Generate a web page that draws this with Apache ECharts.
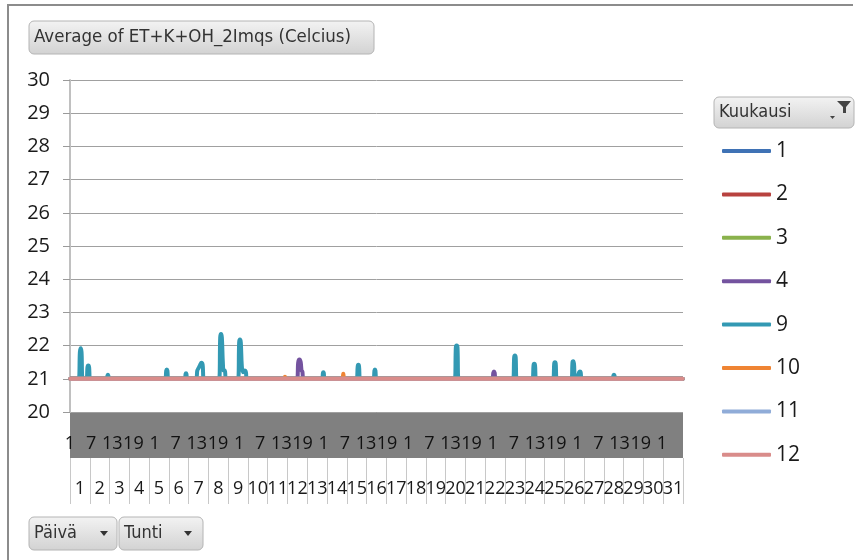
<!DOCTYPE html>
<html>
<head>
<meta charset="utf-8">
<script src="https://cdn.jsdelivr.net/npm/echarts@6/dist/echarts.min.js"></script>
<style>
html,body{margin:0;padding:0;background:#fff;}
#chart{width:860px;height:560px;}
</style>
</head>
<body>
<div id="chart"></div>
<script>
// ---- data ----
const titleText = 'Average of ET+K+OH_2Imqs (Celcius)';
const legendTitle = 'Kuukausi';
const fieldButtons = ['Päivä', 'Tunti'];
const days = ['1','2','3','4','5','6','7','8','9','10','11','12','13','14','15','16','17','18','19','20','21','22','23','24','25','26','27','28','29','30','31'];
const hourLabels = ['1','7','13','19','1','7','13','19','1','7','13','19','1','7','13','19','1','7','13','19','1','7','13','19','1','7','13','19','1'];
const hoursTotal = 744; // 31 days x 24 hours
const yMin = 20, yMax = 30, yStep = 1;
const months = ['1','2','3','4','9','10','11','12'];
const monthColors = ['#3f72b5','#b8423f','#8ab24c','#74539f','#3399b3','#ef8433','#90acd8','#d98c8a'];

// [hour index, value]
const m1 = [[0.5,21],[743.5,21]];
const m2 = [[0.5,21],[743.5,21]];
const m3 = [[0.5,21],[743.5,21]];
const m4 = [[0.5,21],[275.5,21],[277,21.5],[278.5,21.58],[280,21.5],[281,21.25],[282,21.22],[283.5,21],
            [512.5,21],[513.8,21.18],[514.6,21.22],[515.4,21.18],[516.7,21],[743.5,21]];
const m9 = [[0.5,21],
  [10.5,21],[12,21.8],[13,21.92],[14,21.8],[15.5,21],
  [20,21],[21.2,21.35],[22.2,21.4],[23.2,21.35],[24.4,21],
  [44.5,21],[45.5,21.1],[46,21.12],[46.5,21.1],[47.5,21],
  [115.5,21],[116.8,21.25],[117.5,21.28],[118.2,21.25],[119.5,21],
  [139.3,21],[140.3,21.15],[140.8,21.17],[141.3,21.15],[142.3,21],
  [153,21],[154.5,21.25],[156,21.32],[158,21.42],[159.5,21.48],[161,21.42],[162.5,21],
  [181,21],[182.3,22.25],[183.3,22.35],[184.3,22.25],[185.5,21.5],[186.5,21.25],[188,21.25],[189.2,21],
  [204,21],[205.3,22.1],[206.3,22.18],[207.3,22.1],[208.5,21.4],[210,21.2],[212,21.25],[213.5,21.2],[214.5,21],
  [306,21],[307,21.18],[307.5,21.2],[308,21.18],[309,21],
  [347.8,21],[349.2,21.38],[350,21.42],[350.8,21.38],[352.2,21],
  [368.3,21],[369.5,21.25],[370.1,21.28],[370.7,21.25],[371.9,21],
  [467,21],[468.3,21.95],[469.3,22.0],[470.3,21.95],[471.6,21],
  [537.8,21],[539.1,21.65],[540,21.7],[540.9,21.65],[542.2,21],
  [561.3,21],[562.6,21.41],[563.5,21.45],[564.4,21.41],[565.7,21],
  [586.4,21],[587.7,21.46],[588.6,21.5],[589.5,21.46],[590.8,21],
  [608.6,21],[609.9,21.5],[610.8,21.53],[611.7,21.45],[613,21.1],[616.5,21.1],[618,21.2],[618.9,21.22],[619.8,21.2],[621,21],
  [658.6,21],[659.6,21.1],[660.2,21.12],[660.8,21.1],[661.8,21],
  [743.5,21]];
const m10 = [[0.5,21],[259.5,21],[260.9,21.06],[262.3,21],[330.3,21],[331.7,21.15],[333.1,21],[743.5,21]];
const m11 = [[0.5,21],[743.5,21]];
const m12 = [[0.5,21],[743.5,21]];
const monthData = [m1,m2,m3,m4,m9,m10,m11,m12];

// ---- chart ----
const chart = echarts.init(document.getElementById('chart'), null, {renderer:'canvas'});
const FONT = '"Open Sans", sans-serif';
const BTN = '"DejaVu Sans Condensed", "DejaVu Sans", sans-serif';
const btnFill = new echarts.graphic.LinearGradient(0,0,0,1,[{offset:0,color:'#f3f3f3'},{offset:1,color:'#d2d2d2'}]);

function button(x, y, w, h, label, fontSize, extra) {
  const children = [
    {type:'rect', shape:{x:x, y:y, width:w, height:h, r:5}, style:{fill:btnFill, stroke:'#b4b4b4', lineWidth:1}},
    {type:'text', style:{text:label, x:x+5, y:y+h/2, font: fontSize+'px '+BTN, fill:'#333', textVerticalAlign:'middle'}}
  ];
  return {type:'group', children: children.concat(extra || [])};
}

const series = months.map((m, i) => ({
  name: m,
  type: 'line',
  xAxisIndex: 0, yAxisIndex: 0,
  data: monthData[i],
  smooth: 0.35,
  symbol: 'none',
  color: monthColors[i],
  lineStyle: {width: 4, cap:'round', join:'round', color: monthColors[i]},
  z: 2 + i,
  animation: false
}));

chart.setOption({
  animation: false,
  backgroundColor: '#fff',
  grid: [
    {left:70, top:80, width:613, height:332, containLabel:false},
    {left:70, top:412, width:613, height:46, show:true, backgroundColor:'#808080', borderWidth:0}
  ],
  xAxis: [
    {type:'value', gridIndex:0, min:0, max:hoursTotal, show:false},
    {type:'category', gridIndex:1, data: hourLabels.concat(['']), boundaryGap:false, position:'bottom',
     axisLine:{show:false}, axisTick:{show:false}, splitLine:{show:false},
     axisLabel:{inside:true, margin:5, interval:0, fontSize:18, fontFamily:FONT, color:'#111', hideOverlap:false}},
    {type:'category', gridIndex:1, data: days, boundaryGap:true, position:'bottom',
     axisLine:{show:false}, splitLine:{show:false},
     axisTick:{show:true, interval:0, length:46, alignWithLabel:false, lineStyle:{color:'#c8c8c8', width:1}},
     axisLabel:{margin:22, interval:0, fontSize:18, fontFamily:FONT, color:'#1a1a1a', hideOverlap:false}}
  ],
  yAxis: [
    {type:'value', gridIndex:0, min:yMin, max:yMax, interval:yStep,
     axisLine:{show:true, lineStyle:{color:'#c0c0c0', width:2}},
     axisTick:{show:true, length:7, lineStyle:{color:'#9a9a9a'}},
     axisLabel:{margin:20, fontSize:20, fontFamily:FONT, color:'#1a1a1a'},
     splitLine:{show:true, lineStyle:{color:'#a0a0a0', width:1}}},
    {type:'value', gridIndex:1, show:false}
  ],
  legend: {
    orient:'vertical', left:722, top:140, padding:0,
    data: months,
    icon:'roundRect', itemWidth:49, itemHeight:4, itemGap:21.4,
    textStyle:{fontSize:21, lineHeight:22, fontFamily:FONT, color:'#1a1a1a'},
    selectedMode:false
  },
  series: series,
  graphic: [
    {type:'polyline', shape:{points:[[8,600],[8,5],[853,5]]}, style:{stroke:'#8c8c8c', lineWidth:2, fill:null}},
    button(29, 21, 345, 33, titleText, 18.5),
    button(714, 97, 140, 31, legendTitle, 18, [
      {type:'polygon', shape:{points:[[837,101],[851,101],[846,107],[846,113],[843,113],[843,107]]}, style:{fill:'#444'}},
      {type:'polygon', shape:{points:[[830,116],[835,116],[832.5,119]]}, style:{fill:'#444'}}
    ]),
    button(29, 517, 88, 33, fieldButtons[0], 18, [
      {type:'polygon', shape:{points:[[100,531],[108,531],[104,536]]}, style:{fill:'#333'}}
    ]),
    button(119, 517, 84, 33, fieldButtons[1], 18, [
      {type:'polygon', shape:{points:[[184,531],[192,531],[188,536]]}, style:{fill:'#333'}}
    ])
  ]
});
</script>
</body>
</html>
